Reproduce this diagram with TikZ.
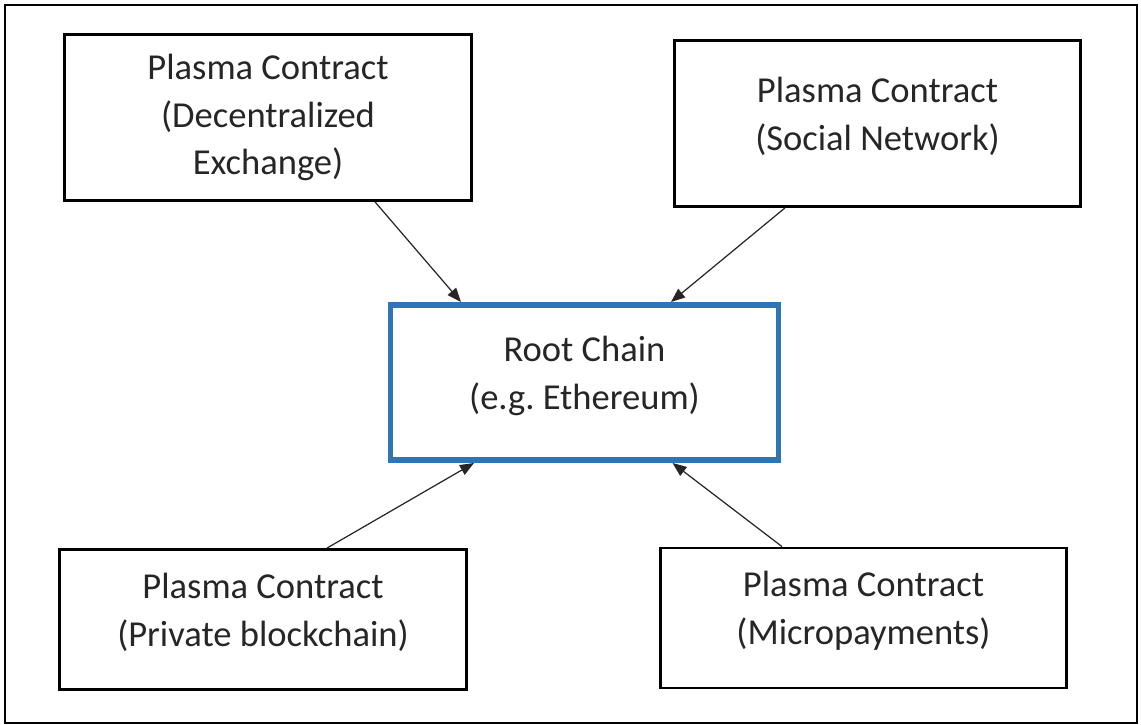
\documentclass[tikz,border=0pt]{standalone}
\usepackage{fontspec}
\setmainfont{Carlito}
\usetikzlibrary{arrows.meta}

\definecolor{rootblue}{RGB}{46,117,182}
\newcommand{\lowpad}{\rule[-0.40cm]{0pt}{0pt}}

\begin{document}
\begin{tikzpicture}[
    font={\fontsize{20.8}{27.2}\selectfont},
    box/.style={rectangle, draw=black, line width=1.6pt, minimum width=8.13cm, minimum height=3.32cm,
                align=center, text=black!85},
    rootbox/.style={box, draw=rootblue, line width=3.4pt, minimum width=7.76cm, minimum height=3.1cm},
    arr/.style={-{Triangle[length=2.8mm, width=2.2mm]}, line width=0.7pt, black!85}
]

% ---- Frame ----
\useasboundingbox (0,0) rectangle (22.82,14.5);
\draw[line width=1.1pt] (0.1,0.04) rectangle (22.74,14.4);

% ---- Plasma contracts ----
\node[box] (dex) at (5.36,12.15) {Plasma Contract\\(Decentralized\\Exchange)};
\node[box] (social) at (17.55,12.03) {Plasma Contract\\(Social Network)\lowpad};
\node[box, minimum height=2.8cm] (private) at (5.26,2.11) {Plasma Contract\\(Private blockchain)\lowpad};
\node[box, minimum height=2.8cm] (micro) at (17.27,2.14) {Plasma Contract\\(Micropayments)\lowpad};

% ---- Root chain ----
\node[rootbox] (root) at (11.69,6.85) {Root Chain\\(e.g.\ Ethereum)\lowpad};

% ---- Arrows ----
\draw[arr] ([xshift=2.14cm]dex.south) -- ([xshift=-2.47cm]root.north);
\draw[arr] ([xshift=-1.85cm]social.south) -- ([xshift=1.73cm]root.north);
\draw[arr] ([xshift=1.28cm]private.north) -- ([xshift=-2.21cm]root.south);
\draw[arr] ([xshift=-1.63cm]micro.north) -- ([xshift=1.76cm]root.south);

\end{tikzpicture}
\end{document}
